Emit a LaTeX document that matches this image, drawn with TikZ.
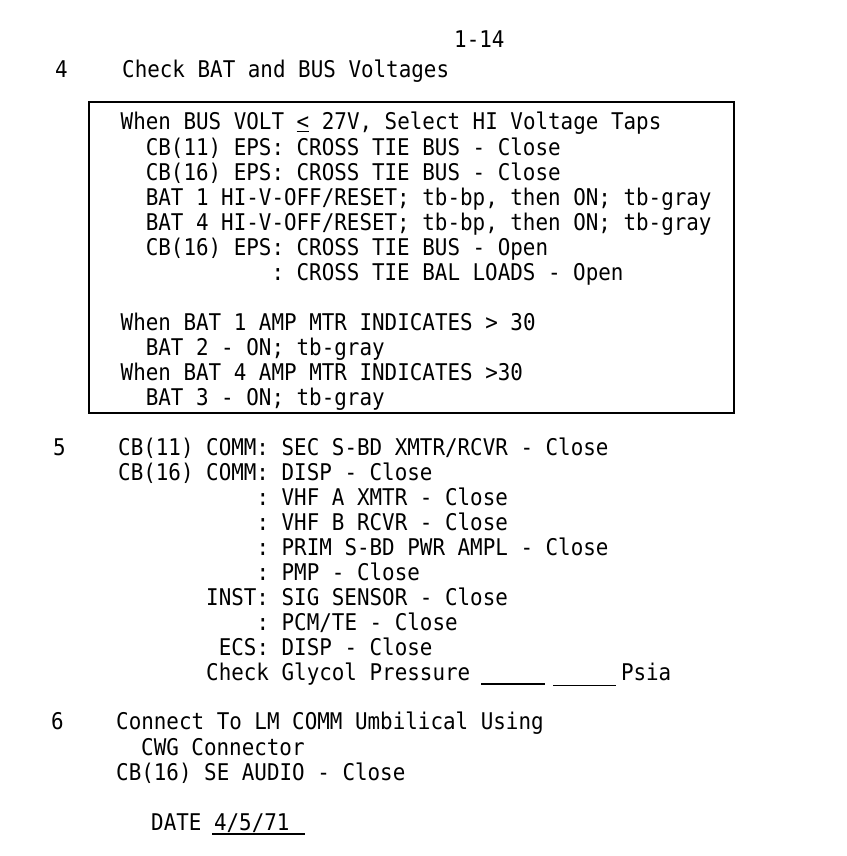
\documentclass[tikz,border=0pt]{standalone}
\usepackage{fontspec}
\newfontfamily\typed{DejaVu Sans Mono}[FakeStretch=0.908]
\newcommand{\typedfont}{\typed\fontsize{23pt}{25pt}\selectfont\frenchspacing}

\begin{document}
\begin{tikzpicture}[x=1pt,y=1pt]
			\tikzstyle{every node}+=[inner sep=0pt,anchor=base west,font=\typedfont]
			\useasboundingbox (0,0) rectangle (846,-856);
			\node (page) at (454,-48) {1-14};
			\node (s4) at (55,-78) {4};
			\node (s4a) at (122,-78) {Check BAT and BUS Voltages};
			% boxed block
			\draw [black,line width=1.6pt] (89,-102) rectangle (734,-413);
			\node (b1) at (120.5,-130) {When BUS VOLT \underline{<} 27V, Select HI Voltage Taps};
			\node (b2) at (145.6,-155) {CB(11) EPS: CROSS TIE BUS - Close};
			\node (b3) at (145.6,-180) {CB(16) EPS: CROSS TIE BUS - Close};
			\node (b4) at (145.6,-205) {BAT 1 HI-V-OFF/RESET; tb-bp, then ON; tb-gray};
			\node (b5) at (145.6,-230) {BAT 4 HI-V-OFF/RESET; tb-bp, then ON; tb-gray};
			\node (b6) at (145.6,-255) {CB(16) EPS: CROSS TIE BUS - Open};
			\node (b7) at (271.3,-280) {: CROSS TIE BAL LOADS - Open};
			\node (b8) at (120.5,-330) {When BAT 1 AMP MTR INDICATES > 30};
			\node (b9) at (145.6,-355) {BAT 2 - ON; tb-gray};
			\node (b10) at (120.5,-380) {When BAT 4 AMP MTR INDICATES >30};
			\node (b11) at (145.6,-405) {BAT 3 - ON; tb-gray};
			% step 5
			\node (s5) at (53,-455) {5};
			\node (c1) at (118,-455) {CB(11) COMM: SEC S-BD XMTR/RCVR - Close};
			\node (c2) at (118,-480) {CB(16) COMM: DISP - Close};
			\node (c3) at (256.3,-505) {: VHF A XMTR - Close};
			\node (c4) at (256.3,-530) {: VHF B RCVR - Close};
			\node (c5) at (256.3,-555) {: PRIM S-BD PWR AMPL - Close};
			\node (c6) at (256.3,-580) {: PMP - Close};
			\node (c7) at (206,-605) {INST: SIG SENSOR - Close};
			\node (c8) at (256.3,-630) {: PCM/TE - Close};
			\node (c9) at (218.6,-655) {ECS: DISP - Close};
			\node (c10) at (206,-680) {Check Glycol Pressure};
			\node (psia) at (620.8,-680) {Psia};
			\draw [black,line width=1.2pt] (481,-684) -- (545,-684);
			\draw [black,line width=1pt] (553,-685) -- (616,-685);
			% step 6
			\node (s6) at (51,-729) {6};
			\node (d1) at (116,-729) {Connect To LM COMM Umbilical Using};
			\node (d2) at (141,-755) {CWG Connector};
			\node (d3) at (116,-780) {CB(16) SE AUDIO - Close};
			\node (date) at (151,-830) {DATE};
			\node (datev) at (213.9,-830) {4/5/71};
			\draw [black,line width=1.2pt] (212,-834) -- (305,-834);
\end{tikzpicture}
\end{document}
